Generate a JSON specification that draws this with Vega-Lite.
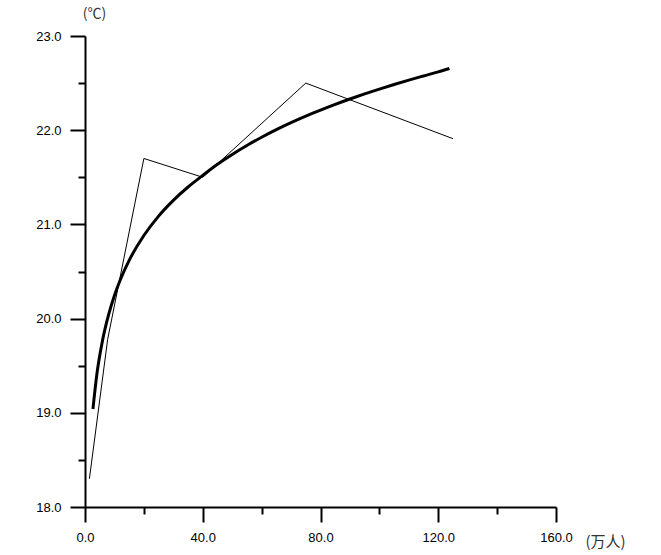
{
  "$schema": "https://vega.github.io/schema/vega-lite/v6.json",
  "autosize": "none",
  "width": 471,
  "height": 471,
  "padding": {"left": 85, "top": 36, "right": 105, "bottom": 48},
  "background": "white",
  "config": {"view": {"stroke": null}},
  "datasets": {
    "observed": [
      {"population": 1.5, "temperature": 18.3},
      {"population": 7.7, "temperature": 19.78},
      {"population": 20, "temperature": 21.7},
      {"population": 40, "temperature": 21.5},
      {"population": 75, "temperature": 22.5},
      {"population": 125, "temperature": 21.91}
    ],
    "fitted": [
      {"population": 2.7, "temperature": 19.04},
      {"population": 4, "temperature": 19.402},
      {"population": 6, "temperature": 19.775},
      {"population": 8, "temperature": 20.039},
      {"population": 10, "temperature": 20.245},
      {"population": 12, "temperature": 20.412},
      {"population": 15, "temperature": 20.618},
      {"population": 20, "temperature": 20.882},
      {"population": 25, "temperature": 21.088},
      {"population": 30, "temperature": 21.255},
      {"population": 35, "temperature": 21.397},
      {"population": 40, "temperature": 21.52},
      {"population": 45, "temperature": 21.638},
      {"population": 50, "temperature": 21.743},
      {"population": 55, "temperature": 21.838},
      {"population": 60, "temperature": 21.925},
      {"population": 65, "temperature": 22.006},
      {"population": 70, "temperature": 22.08},
      {"population": 75, "temperature": 22.149},
      {"population": 80, "temperature": 22.213},
      {"population": 85, "temperature": 22.274},
      {"population": 90, "temperature": 22.331},
      {"population": 95, "temperature": 22.385},
      {"population": 100, "temperature": 22.436},
      {"population": 105, "temperature": 22.485},
      {"population": 110, "temperature": 22.532},
      {"population": 115, "temperature": 22.576},
      {"population": 120, "temperature": 22.619},
      {"population": 123.8, "temperature": 22.655}
    ]
  },
  "layer": [
    {
      "data": {"name": "observed"},
      "mark": {"type": "line", "color": "black", "strokeWidth": 1},
      "encoding": {
        "x": {
          "field": "population",
          "type": "quantitative",
          "scale": {"domain": [0, 160], "nice": false, "zero": false},
          "axis": {
            "title": "(万人)",
            "titleFont": "Noto Sans CJK SC",
            "titleFontSize": 15,
            "titleFontWeight": "normal",
            "titleColor": "#333",
            "titleAnchor": "start",
            "titleAlign": "center",
            "titleBaseline": "middle",
            "titleX": 520,
            "titleY": 34,
            "values": [0, 20, 40, 60, 80, 100, 120, 140, 160],
            "labelExpr": "datum.value % 40 === 0 ? format(datum.value, '.1f') : ''",
            "labelFont": "Liberation Sans",
            "labelFontSize": 13,
            "labelColor": "black",
            "labelPadding": 9,
            "labelOverlap": false,
            "labelBound": false,
            "labelFlush": false,
            "domainColor": "black",
            "domainWidth": 2,
            "tickColor": "black",
            "tickWidth": 2,
            "tickSize": {"condition": {"test": "datum.value % 40 === 0", "value": 15}, "value": 7},
            "grid": false
          }
        },
        "y": {
          "field": "temperature",
          "type": "quantitative",
          "scale": {"domain": [18, 23], "nice": false, "zero": false},
          "axis": {
            "title": "(℃)",
            "titleFont": "Noto Sans CJK SC",
            "titleFontSize": 14,
            "titleFontWeight": "normal",
            "titleColor": "#333",
            "titleAngle": 0,
            "titleAnchor": "start",
            "titleAlign": "center",
            "titleBaseline": "middle",
            "titleX": 9,
            "titleY": -23,
            "values": [18, 18.5, 19, 19.5, 20, 20.5, 21, 21.5, 22, 22.5, 23],
            "labelExpr": "datum.value % 1 === 0 ? format(datum.value, '.1f') : ''",
            "labelFont": "Liberation Sans",
            "labelFontSize": 13,
            "labelColor": "black",
            "labelPadding": 9,
            "labelOverlap": false,
            "labelBound": false,
            "labelFlush": false,
            "domainColor": "black",
            "domainWidth": 2,
            "tickColor": "black",
            "tickWidth": 2,
            "tickSize": {"condition": {"test": "datum.value % 1 === 0", "value": 15}, "value": 7},
            "grid": false
          }
        }
      }
    },
    {
      "data": {"name": "fitted"},
      "mark": {"type": "line", "color": "black", "strokeWidth": 3, "interpolate": "monotone"},
      "encoding": {
        "x": {"field": "population", "type": "quantitative"},
        "y": {"field": "temperature", "type": "quantitative"}
      }
    }
  ]
}
